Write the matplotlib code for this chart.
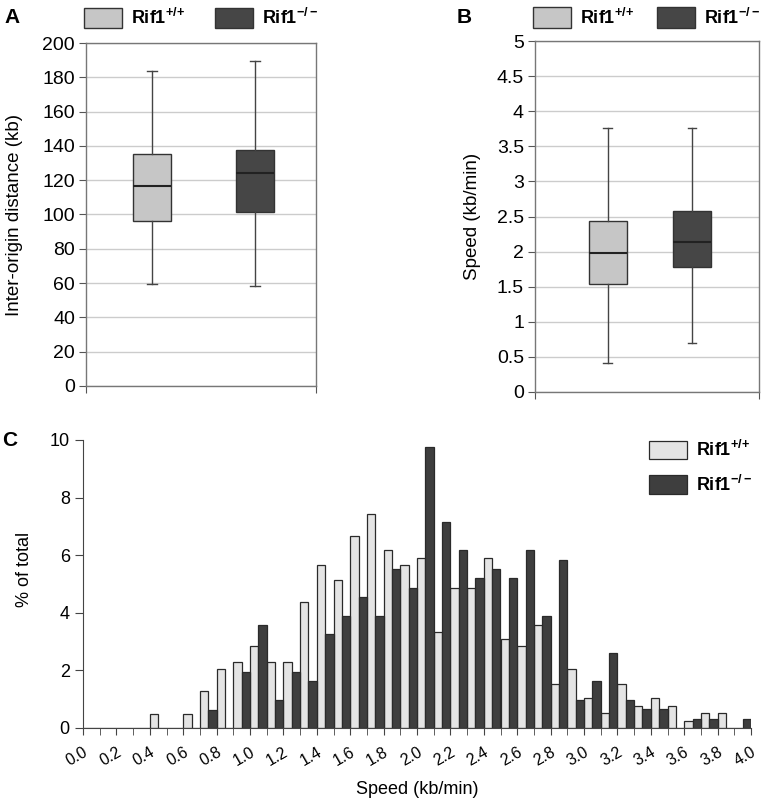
import matplotlib
matplotlib.use('Agg')
import matplotlib.pyplot as plt
from matplotlib.patches import Patch
import numpy as np

plt.rcParams['font.family'] = ['Liberation Sans', 'DejaVu Sans']
plt.rcParams['mathtext.fontset'] = 'custom'
plt.rcParams['mathtext.rm'] = 'Liberation Sans'
plt.rcParams['mathtext.bf'] = 'Liberation Sans:bold'

groups = ['Rif1$^{+/+}$', 'Rif1$^{-/-}$']
legend_labels = [r'$\mathbf{Rif1}^{\mathbf{+/\!+}}$', r'$\mathbf{Rif1}^{\mathbf{-/-}}$']

# panel A: inter-origin distance (kb)
dist_whislo = [59.6, 58.6]
dist_q1 = [96.4, 101.3]
dist_med = [116.5, 124.2]
dist_q3 = [135.3, 137.5]
dist_whishi = [183.4, 189.7]

# panel B: fork speed (kb/min)
speed_whislo = [0.42, 0.70]
speed_q1 = [1.54, 1.78]
speed_med = [1.98, 2.13]
speed_q3 = [2.43, 2.58]
speed_whishi = [3.76, 3.76]

# panel C: speed histogram, bins of 0.1 kb/min starting at 0.0
bin_starts = [round(0.1 * i, 1) for i in range(40)]
pct_wt = [0, 0, 0, 0, 0.5, 0, 0.5, 1.27, 2.06, 2.3,
          2.83, 2.3, 2.3, 4.36, 5.66, 5.14, 6.67, 7.44, 6.17, 5.65,
          5.91, 3.34, 4.85, 4.85, 5.91, 3.08, 2.83, 3.58, 1.54, 2.06,
          1.04, 0.52, 1.54, 0.77, 1.03, 0.77, 0.25, 0.52, 0.52, 0]
pct_ko = [0, 0, 0, 0, 0, 0, 0, 0.64, 0, 1.94,
          3.58, 0.96, 1.94, 1.62, 3.26, 3.89, 4.55, 3.89, 5.53, 4.87,
          9.76, 7.15, 6.18, 5.2, 5.53, 5.2, 6.18, 3.89, 5.85, 0.98,
          1.64, 2.6, 0.98, 0.66, 0.66, 0, 0.31, 0.31, 0, 0.31]

box_colors = ['#c6c6c6', '#464646']
hist_colors = ['#e4e4e4', '#3e3e3e']

W, H = 766, 800
fig = plt.figure(figsize=(W / 100, H / 100), dpi=100)


def px_axes(left, top, right, bottom):
    return fig.add_axes([left / W, 1 - bottom / H, (right - left) / W, (bottom - top) / H])


def box_panel(ax, lo, q1, med, q3, hi, xlim, width, ylim, yticks, ylabel, labelpad, leg_y, colspace):
    stats = []
    for i in range(2):
        stats.append(dict(whislo=lo[i], q1=q1[i], med=med[i], q3=q3[i], whishi=hi[i], label=groups[i]))
    bp = ax.bxp(stats, positions=[1, 2], widths=width, showfliers=False, patch_artist=True,
                capwidths=0.1,
                boxprops=dict(edgecolor='#333333', linewidth=1.0),
                medianprops=dict(color='#222222', linewidth=1.5),
                whiskerprops=dict(color='#444444', linewidth=1.0),
                capprops=dict(color='#444444', linewidth=1.0))
    for patch, c in zip(bp['boxes'], box_colors):
        patch.set_facecolor(c)
    ax.set_xlim(*xlim)
    ax.set_ylim(*ylim)
    ax.set_yticks(yticks)
    ax.set_yticklabels([('%g' % t) for t in yticks])
    ax.yaxis.grid(True, color='#cccccc', linewidth=1.0)
    ax.set_axisbelow(True)
    ax.set_xticks(list(xlim))
    ax.set_xticklabels(['', ''])
    for s in ax.spines.values():
        s.set_color('#777777')
        s.set_linewidth(1.0)
    ax.tick_params(axis='both', direction='out', length=5, color='#555555', labelsize=14, pad=3)
    ax.set_ylabel(ylabel, fontsize=13.5, labelpad=labelpad)
    ax.legend(handles=[Patch(facecolor=box_colors[0], edgecolor='#333333'),
                       Patch(facecolor=box_colors[1], edgecolor='#333333')],
              labels=legend_labels, ncol=2, frameon=False, loc='center left',
              bbox_to_anchor=(-0.01, leg_y), fontsize=13, handlelength=2.1, handleheight=1.4,
              handletextpad=0.5, columnspacing=colspace, borderaxespad=0, borderpad=0)


axA = px_axes(86, 43, 316, 386)
box_panel(axA, dist_whislo, dist_q1, dist_med, dist_q3, dist_whishi,
          (0.36, 2.59), 0.37, (0, 200), list(range(0, 201, 20)), 'Inter-origin distance (kb)',
          14, 1 + 25 / 343, 1.65)

axB = px_axes(535, 41, 759, 392)
box_panel(axB, speed_whislo, speed_q1, speed_med, speed_q3, speed_whishi,
          (0.14, 2.79), 0.45, (0, 5), [0, 0.5, 1, 1.5, 2, 2.5, 3, 3.5, 4, 4.5, 5], 'Speed (kb/min)',
          11, 1 + 23.5 / 351, 1.3)

axC = px_axes(83, 440, 751, 728)
x = np.array(bin_starts)
axC.bar(x, pct_wt, width=0.05, align='edge', color=hist_colors[0], edgecolor='#2a2a2a',
        linewidth=0.9, label=legend_labels[0])
axC.bar(x + 0.05, pct_ko, width=0.05, align='edge', color=hist_colors[1], edgecolor='#2a2a2a',
        linewidth=0.9, label=legend_labels[1])
axC.set_xlim(0, 4.0)
axC.set_ylim(0, 10)
axC.set_yticks([0, 2, 4, 6, 8, 10])
major = [round(0.2 * i, 1) for i in range(21)]
axC.set_xticks(major)
axC.set_xticklabels(['%.1f' % v for v in major], rotation=30, ha='right', rotation_mode='anchor')
axC.set_xticks([round(0.1 * i, 1) for i in range(41)], minor=True)
axC.tick_params(axis='x', which='both', direction='out', length=5, color='#444444')
axC.tick_params(axis='x', labelsize=11.5, pad=7)
axC.tick_params(axis='y', direction='out', length=6, color='#444444', labelsize=13)
for s in ['top', 'right']:
    axC.spines[s].set_visible(False)
for s in ['left', 'bottom']:
    axC.spines[s].set_color('#444444')
axC.set_ylabel('% of total', fontsize=13, labelpad=12)
axC.yaxis.set_label_coords(-0.075, 0.55)
axC.set_xlabel('Speed (kb/min)', fontsize=13, labelpad=9)
axC.legend(loc='upper left', bbox_to_anchor=(0.848, 1.0), frameon=False, fontsize=13,
           handlelength=2.1, handleheight=1.2, handletextpad=0.5, labelspacing=0.8,
           borderaxespad=0, borderpad=0)

fig.text(4 / W, 1 - 23 / H, 'A', fontsize=15, fontweight='bold')
fig.text(457 / W, 1 - 23 / H, 'B', fontsize=15, fontweight='bold')
fig.text(2 / W, 1 - 446 / H, 'C', fontsize=15, fontweight='bold')

fig.savefig('out.png', dpi=100)
